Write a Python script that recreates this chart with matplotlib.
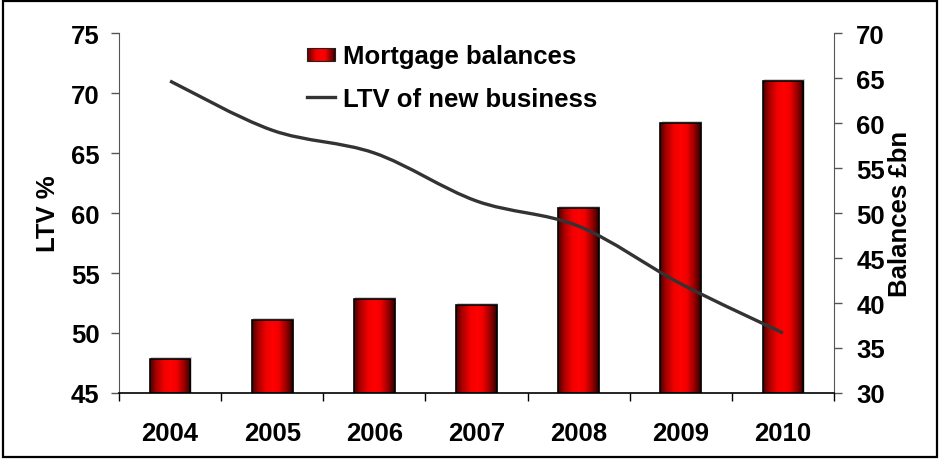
import matplotlib.pyplot as plt
import numpy as np
from matplotlib.colors import LinearSegmentedColormap
from matplotlib.path import Path
from matplotlib.patches import PathPatch, Rectangle
from matplotlib.lines import Line2D
from matplotlib.legend_handler import HandlerBase

# data
years = ['2004', '2005', '2006', '2007', '2008', '2009', '2010']
balances = [33.8, 38.1, 40.5, 39.8, 50.6, 60.0, 64.7]   # £bn, right axis
ltv_new = [71.0, 66.9, 65.0, 61.0, 58.9, 54.1, 50.0]    # %, left axis

FS = 18.5
plt.rcParams['font.family'] = ['Liberation Sans', 'DejaVu Sans']
plt.rcParams['font.weight'] = 'bold'
plt.rcParams['font.size'] = FS

# cylinder style shading for the bars
bar_cmap = LinearSegmentedColormap.from_list(
    'cyl', [(0.0, '#4a0000'), (0.15, '#a80000'), (0.35, '#f20000'), (0.52, '#ff0000'),
            (0.66, '#f00000'), (0.85, '#900000'), (1.0, '#2c0000')])
line_color = '#333333'

fig = plt.figure(figsize=(9.42, 4.6), dpi=100)
ax = fig.add_axes([0.1263, 0.1435, 0.7591, 0.7825])
ax2 = ax.twinx()
ax.set_zorder(ax2.get_zorder() + 1)
ax.patch.set_visible(False)

x = np.arange(len(years))
bar_w = 0.4
base = 30
bars = ax2.bar(x, np.array(balances) - base, width=bar_w, bottom=base, facecolor='none',
               edgecolor='black', linewidth=1.2, zorder=3)
grad = np.linspace(0, 1, 256).reshape(1, -1)
for b in bars:
    x0, y0 = b.get_x(), b.get_y()
    # light grey drop shadow
    ax2.add_patch(Rectangle((x0 + 0.012, y0), b.get_width(), b.get_height() + 0.2,
                            facecolor='#d0d0d0', edgecolor='none', zorder=1))
    im = ax2.imshow(grad, extent=[x0, x0 + b.get_width(), y0, y0 + b.get_height()],
                    aspect='auto', cmap=bar_cmap, zorder=2, interpolation='bilinear')
    im.set_clip_path(b)

ax2.set_ylim(30, 70)
ax2.set_yticks(np.arange(30, 71, 5))
ax2.set_ylabel('Balances £bn', fontweight='bold', labelpad=2)

# smoothed LTV line (bezier segments through the yearly points)
pts = np.column_stack([x, ltv_new]).astype(float)
verts = [pts[0]]
codes = [Path.MOVETO]
n = len(pts)
for i in range(n - 1):
    p_prev = pts[i - 1] if i > 0 else pts[i]
    p_next2 = pts[i + 2] if i + 2 < n else pts[i + 1]
    c1 = pts[i] + (pts[i + 1] - p_prev) / 6.0
    c2 = pts[i + 1] - (p_next2 - pts[i]) / 6.0
    verts += [c1, c2, pts[i + 1]]
    codes += [Path.CURVE4] * 3
ax.add_patch(PathPatch(Path(verts, codes), facecolor='none', edgecolor=line_color,
                       linewidth=2.4, capstyle='butt', zorder=4))

ax.set_xlim(-0.5, len(years) - 0.5)
ax.set_ylim(45, 75)
ax.set_yticks(np.arange(45, 76, 5))
ax.set_ylabel('LTV %', fontweight='bold', labelpad=8)

# tick marks between the categories, labels at the centres
ax.set_xticks(np.arange(-0.5, len(years), 1.0))
ax.set_xticklabels([])
ax.set_xticks(x, minor=True)
ax.set_xticklabels(years, minor=True)
ax.tick_params(axis='x', which='major', direction='out', length=6, width=1, color='black')
ax.tick_params(axis='x', which='minor', length=0, pad=20)
ax.tick_params(axis='y', direction='out', length=6, width=1, color='#555555', pad=8)
ax2.tick_params(axis='y', direction='out', length=6, width=1, color='#555555', pad=10)

for a in (ax, ax2):
    a.spines['top'].set_visible(False)
    a.spines['left'].set_color('#555555')
    a.spines['right'].set_color('#555555')
    a.spines['bottom'].set_color('black')
    a.spines['bottom'].set_linewidth(1.2)
ax2.spines['bottom'].set_visible(False)
ax.spines['right'].set_visible(False)
ax2.spines['left'].set_visible(False)


class GradientHandler(HandlerBase):
    def create_artists(self, legend, orig_handle, xdescent, ydescent, width, height,
                       fontsize, trans):
        y0 = -ydescent + height * 0.1
        h = height * 0.75
        strips = []
        k = 24
        for j in range(k):
            r = Rectangle((-xdescent + width * j / k, y0), width / k + 0.3, h,
                          facecolor=bar_cmap((j + 0.5) / k), edgecolor='none',
                          transform=trans)
            strips.append(r)
        strips.append(Rectangle((-xdescent, y0), width, h, facecolor='none',
                                edgecolor='#222222', linewidth=0.8, transform=trans))
        return strips


bar_handle = Rectangle((0, 0), 1, 1)
line_handle = Line2D([], [], color=line_color, linewidth=2.4)
fig.legend([bar_handle, line_handle], ['Mortgage balances', 'LTV of new business'],
           loc='upper left', bbox_to_anchor=(0.326, 0.902), frameon=False,
           borderpad=0, borderaxespad=0,
           handlelength=1.09, handletextpad=0.31, labelspacing=0.72,
           handler_map={Rectangle: GradientHandler()},
           prop={'weight': 'bold', 'size': FS})

# outer frame
fig.patches.append(Rectangle((0.003, 0.004), 0.992, 0.991, transform=fig.transFigure,
                             facecolor='none', edgecolor='black', linewidth=1.6))

fig.savefig('out.png', dpi=100)
